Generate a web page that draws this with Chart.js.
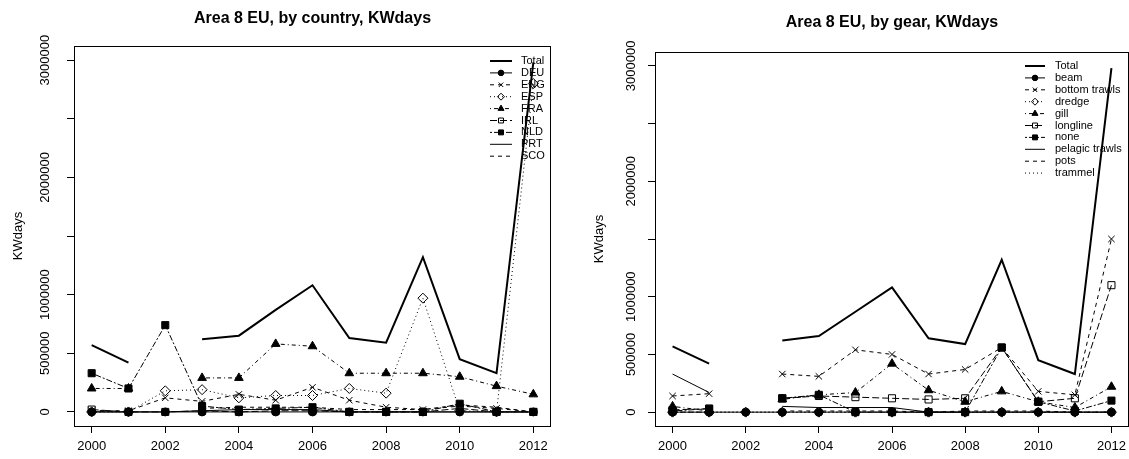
<!DOCTYPE html>
<html>
<head>
<meta charset="utf-8">
<script src="https://cdn.jsdelivr.net/npm/chart.js@4/dist/chart.umd.min.js"></script>
<style>
  body { margin: 0; background: #fff; }
  canvas { position: absolute; top: 0; }
</style>
</head>
<body>
<canvas id="country" width="564" height="459" style="left:0"></canvas>
<canvas id="gear" width="565" height="459" style="left:564px"></canvas>
<script>
// ---- data ----
const years = [2000, 2001, 2002, 2003, 2004, 2005, 2006, 2007, 2008, 2009, 2010, 2011, 2012];
const xTickValues = [2000, 2002, 2004, 2006, 2008, 2010, 2012];
const yTickValues = [0, 500000, 1000000, 1500000, 2000000, 2500000, 3000000];
const yTickLabels = ['0', '500000', '1000000', '', '2000000', '', '3000000'];

// by country
const countryTotal = [570000, 420000, null, 620000, 650000, 870000, 1080000, 630000, 590000, 1320000, 450000, 330000, 2980000];
const countryDEU = [0, 0, 0, 0, 0, 0, 0, 0, 0, 0, 0, 0, 0];
const countryENG = [10000, 10000, 120000, 90000, 150000, 100000, 210000, 100000, 40000, 20000, 50000, 30000, 0];
const countryESP = [0, 0, 180000, 190000, 120000, 140000, 140000, 200000, 160000, 970000, 10000, 0, 2800000];
const countryFRA = [200000, 200000, null, 290000, 290000, 580000, 560000, 330000, 330000, 330000, 300000, 220000, 150000];
const countryIRL = [20000, 0, 0, 10000, 0, 10000, 10000, 0, 0, 0, 30000, 0, 0];
const countryNLD = [330000, 200000, 740000, 50000, 20000, 30000, 40000, 0, 0, 0, 70000, 0, 0];
const countryPRT = [0, 0, 0, 10000, 20000, 20000, 20000, 0, 0, 0, 0, 0, 0];
const countrySCO = [10000, 0, null, 30000, 40000, 40000, 40000, 20000, 20000, 20000, 60000, 40000, 0];

// by gear
const gearTotal = [570000, 420000, null, 620000, 660000, 870000, 1080000, 640000, 590000, 1320000, 450000, 330000, 2980000];
const gearBeam = [0, 0, 0, 0, 0, 0, 0, 0, 0, 0, 0, 0, 0];
const gearBottomTrawls = [140000, 160000, null, 330000, 310000, 540000, 500000, 330000, 370000, 560000, 180000, 150000, 1500000];
const gearDredge = [0, 0, 0, 0, 0, 0, 0, 0, 0, 0, 0, 0, 0];
const gearGill = [50000, 10000, null, 110000, 150000, 170000, 420000, 190000, 90000, 180000, 90000, 40000, 220000];
const gearLongline = [20000, 30000, null, 120000, 140000, 130000, 120000, 110000, 120000, 560000, 90000, 120000, 1100000];
const gearNone = [10000, 30000, null, 120000, 150000, 0, 0, 0, 0, 560000, 90000, 10000, 100000];
const gearPelagic = [330000, 170000, null, 50000, 40000, 40000, 40000, 0, 0, 0, 0, 0, 0];
const gearPots = [0, 0, null, 10000, 10000, 10000, 10000, 0, 10000, 10000, 10000, 0, 0];
const gearTrammel = [0, 0, 0, 0, 0, 0, 0, 0, 0, 0, 0, 0, 0];

// ---- R-like line types and plotting symbols ----
const ltyDash = { 1: [], 2: [4, 4], 3: [1, 3], 4: [1, 3, 4, 3], 5: [7, 3], 6: [2, 2, 6, 2] };
const pchStyle = {
  16: { style: 'circle', r: 4, fill: true },
  4: { style: 'crossRot', r: 4.5, fill: false },
  5: { style: 'rectRot', r: 5, fill: false },
  17: { style: 'triangle', r: 5, fill: true },
  22: { style: 'rect', r: 5, fill: false },
  15: { style: 'rect', r: 5, fill: true }
};
const FONT = '"Liberation Sans", Arial, Helvetica, sans-serif';

function series(label, data, lty, pch, lwd) {
  return { label, data, lty, pch, lwd: lwd || 1 };
}

const countrySeries = [
  series('Total', countryTotal, 1, null, 2),
  series('DEU', countryDEU, 1, 16),
  series('ENG', countryENG, 2, 4),
  series('ESP', countryESP, 3, 5),
  series('FRA', countryFRA, 4, 17),
  series('IRL', countryIRL, 5, 22),
  series('NLD', countryNLD, 6, 15),
  series('PRT', countryPRT, 1, null),
  series('SCO', countrySCO, 2, null)
];

const gearSeries = [
  series('Total', gearTotal, 1, null, 2),
  series('beam', gearBeam, 1, 16),
  series('bottom trawls', gearBottomTrawls, 2, 4),
  series('dredge', gearDredge, 3, 5),
  series('gill', gearGill, 4, 17),
  series('longline', gearLongline, 5, 22),
  series('none', gearNone, 6, 15),
  series('pelagic trawls', gearPelagic, 1, null),
  series('pots', gearPots, 2, null),
  series('trammel', gearTrammel, 3, null)
];

function toDataset(s) {
  const p = s.pch ? pchStyle[s.pch] : null;
  return {
    label: s.label,
    data: years.map((yr, i) => ({ x: yr, y: s.data[i] })),
    borderColor: '#000',
    borderWidth: s.lwd,
    borderDash: ltyDash[s.lty],
    pointStyle: p ? p.style : false,
    pointRadius: p ? p.r : 0,
    pointBackgroundColor: p && p.fill ? '#000' : 'rgba(0,0,0,0)',
    pointBorderColor: '#000',
    pointBorderWidth: 1,
    tension: 0,
    spanGaps: false
  };
}

// draws the box, title, rotated y labels, axis title and legend the way R does
const rFrame = {
  id: 'rFrame',
  afterDraw(chart, args, o) {
    const ctx = chart.ctx, a = chart.chartArea, ys = chart.scales.y;
    ctx.save();
    ctx.fillStyle = '#000';
    ctx.strokeStyle = '#000';
    ctx.lineWidth = 1;
    ctx.setLineDash([]);
    ctx.strokeRect(Math.round(a.left) + 0.5, Math.round(a.top) + 0.5,
      Math.round(a.right - a.left) - 1, Math.round(a.bottom - a.top));

    ctx.textAlign = 'center';
    ctx.textBaseline = 'middle';
    ctx.font = 'bold 16px ' + FONT;
    ctx.fillText(o.title, (a.left + a.right) / 2, o.titleY);

    ctx.font = '13px ' + FONT;
    yTickValues.forEach((v, i) => {
      if (!yTickLabels[i]) return;
      ctx.save();
      ctx.translate(o.tickLabelX, ys.getPixelForValue(v));
      ctx.rotate(-Math.PI / 2);
      ctx.fillText(yTickLabels[i], 0, 0);
      ctx.restore();
    });

    ctx.save();
    ctx.translate(o.axisTitleX, (a.top + a.bottom) / 2);
    ctx.rotate(-Math.PI / 2);
    ctx.fillText('KWdays', 0, 0);
    ctx.restore();

    // legend
    ctx.font = '11px ' + FONT;
    ctx.textAlign = 'left';
    o.series.forEach((s, i) => {
      const y = o.legendY + i * o.legendStep;
      ctx.lineWidth = s.lwd;
      ctx.setLineDash(ltyDash[s.lty]);
      ctx.beginPath();
      ctx.moveTo(o.legendX1, y);
      ctx.lineTo(o.legendX2, y);
      ctx.stroke();
      ctx.setLineDash([]);
      ctx.lineWidth = 1;
      if (s.pch) {
        const p = pchStyle[s.pch];
        ctx.fillStyle = p.fill ? '#000' : 'rgba(0,0,0,0)';
        Chart.helpers.drawPoint(ctx, { pointStyle: p.style, radius: p.r * 0.7, rotation: 0, borderWidth: 1 },
          (o.legendX1 + o.legendX2) / 2, y);
      }
      ctx.fillStyle = '#000';
      ctx.fillText(s.label, o.legendTextX, y);
    });
    ctx.restore();
  }
};

function makeChart(id, list, frame, yWidth, pad) {
  return new Chart(document.getElementById(id), {
    type: 'line',
    data: { datasets: list.map(toDataset) },
    plugins: [rFrame],
    options: {
      responsive: false,
      animation: false,
      devicePixelRatio: 1,
      layout: { padding: pad, autoPadding: false },
      plugins: {
        legend: { display: false },
        tooltip: { enabled: false },
        title: { display: false },
        rFrame: Object.assign({ series: list }, frame)
      },
      scales: {
        x: {
          type: 'linear',
          min: 1999.52,
          max: 2012.48,
          afterBuildTicks: s => { s.ticks = xTickValues.map(v => ({ value: v })); },
          afterFit: s => { s.height = 33; s.paddingLeft = 0; s.paddingRight = 0; },
          border: { display: false },
          grid: { drawOnChartArea: false, drawTicks: true, tickLength: 7, color: '#000' },
          ticks: {
            color: '#000', font: { family: FONT, size: 13 }, padding: 6,
            maxRotation: 0, autoSkip: false, callback: v => String(v)
          }
        },
        y: {
          type: 'linear',
          min: -120000,
          max: 3120000,
          afterBuildTicks: s => { s.ticks = yTickValues.map(v => ({ value: v })); },
          afterFit: s => { s.width = yWidth; s.paddingTop = 0; s.paddingBottom = 0; },
          border: { display: false },
          grid: { drawOnChartArea: false, drawTicks: true, tickLength: 7, color: '#000' },
          ticks: { callback: () => '' }
        }
      }
    }
  });
}

makeChart('country', countrySeries, {
  title: 'Area 8 EU, by country, KWdays', titleY: 19,
  tickLabelX: 45, axisTitleX: 18,
  legendX1: 490, legendX2: 512, legendTextX: 521, legendY: 61, legendStep: 11.9
}, 74, { top: 46, right: 13, bottom: 0, left: 0 });

makeChart('gear', gearSeries, {
  title: 'Area 8 EU, by gear, KWdays', titleY: 23,
  tickLabelX: 67, axisTitleX: 35,
  legendX1: 461, legendX2: 481, legendTextX: 491, legendY: 66, legendStep: 11.9
}, 91, { top: 52, right: 0, bottom: 0, left: 0 });
</script>
</body>
</html>
